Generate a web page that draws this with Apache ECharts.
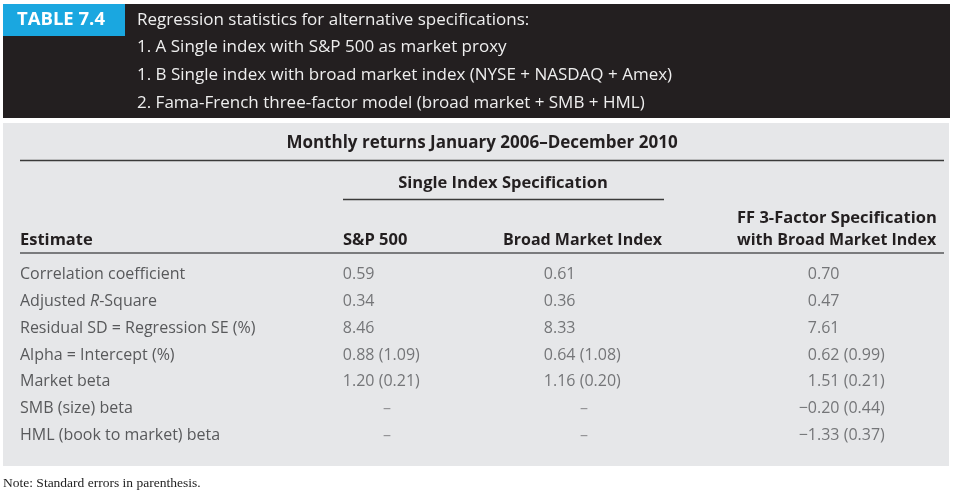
<!DOCTYPE html>
<html><head><meta charset="utf-8">
<script src="https://cdn.jsdelivr.net/npm/echarts@6/dist/echarts.min.js"></script>
<style>html,body{margin:0;padding:0;background:#fff}#c{width:953px;height:492px}</style>
</head><body><div id="c"></div>
<script>
// ---- data ----
const tableTag = 'TABLE 7.4';
const captionLines = [
  'Regression statistics for alternative specifications:',
  '1. A Single index with S&P 500 as market proxy',
  '1. B Single index with broad market index (NYSE + NASDAQ + Amex)',
  '2. Fama-French three-factor model (broad market + SMB + HML)'
];
const periodTitle = 'Monthly returns January 2006\u2013December 2010';
const groupTitle = 'Single Index Specification';
const columns = ['Estimate', 'S&P 500', 'Broad Market Index', 'FF 3-Factor Specification\nwith Broad Market Index'];
const rowLabels = [
  'Correlation coefficient',
  'Adjusted R-Square',
  'Residual SD = Regression SE (%)',
  'Alpha = Intercept (%)',
  'Market beta',
  'SMB (size) beta',
  'HML (book to market) beta'
];
const sp500Est = [0.59, 0.34, 8.46, 0.88, 1.20, null, null];
const sp500SE  = [null, null, null, 1.09, 0.21, null, null];
const broadEst = [0.61, 0.36, 8.33, 0.64, 1.16, null, null];
const broadSE  = [null, null, null, 1.08, 0.20, null, null];
const ffEst    = [0.70, 0.47, 7.61, 0.62, 1.51, -0.20, -1.33];
const ffSE     = [null, null, null, 0.99, 0.21, 0.44, 0.37];
const footnote = 'Note: Standard errors in parenthesis.';

// ---- styling ----
const FONT = '"Open Sans", sans-serif';
const BODY = '#58595b';
const DARK = '#231f20';
const BODY_SIZE = 16;
const chart = echarts.init(document.getElementById('c'), null, {renderer: 'canvas'});

function fmt(v) { const s = Math.abs(v).toFixed(2); return (v < 0 ? '\u2212' : '') + s; }
function intPart(v) { return fmt(v).split('.')[0]; }
function restPart(v, se) { return '.' + fmt(v).split('.')[1] + (se != null ? ' (' + se.toFixed(2) + ')' : ''); }

const valueCols = [
  {name: columns[1], est: sp500Est, se: sp500SE, dec: 352, dash: 35},
  {name: columns[2], est: broadEst, se: broadSE, dec: 553, dash: 31},
  {name: columns[3], est: ffEst, se: ffSE, dec: 817, dash: 0}
];

const rowTop = 261, rowH = 188;
const grids = [{left: 20, top: rowTop, width: 280, height: rowH}];
const xAxes = [{gridIndex: 0, type: 'category', data: [columns[0]], show: false}];
const yAxes = [{
  gridIndex: 0, type: 'category', data: rowLabels, inverse: true,
  axisLine: {show: false}, axisTick: {show: false}, splitLine: {show: false},
  axisLabel: {
    inside: true, margin: 0, color: BODY, fontFamily: FONT, fontSize: BODY_SIZE,
    formatter: function (v) { return v === 'Adjusted R-Square' ? 'Adjusted {i|R}-Square' : v; },
    rich: {i: {fontStyle: 'italic', color: BODY, fontFamily: FONT, fontSize: BODY_SIZE}}
  }
}];
const series = [{
  type: 'scatter', xAxisIndex: 0, yAxisIndex: 0, symbolSize: 0,
  data: rowLabels.map(r => [columns[0], r]), silent: true
}];
const lbl = {color: BODY, fontFamily: FONT, fontSize: BODY_SIZE};
valueCols.forEach((c, i) => {
  const gi = i + 1;
  grids.push({left: c.dec - 10, top: rowTop, width: 20, height: rowH});
  xAxes.push({gridIndex: gi, type: 'category', data: [c.name], show: false});
  yAxes.push({gridIndex: gi, type: 'category', data: rowLabels, inverse: true, show: false});
  const idx = rowLabels.map((r, k) => k);
  const vals = idx.filter(k => c.est[k] != null);
  const nulls = idx.filter(k => c.est[k] == null);
  series.push({
    type: 'scatter', xAxisIndex: gi, yAxisIndex: gi, symbolSize: 0, silent: true, z: 10,
    data: vals.map(k => ({value: [c.name, rowLabels[k]], k: k})),
    label: Object.assign({show: true, position: 'left', distance: 0,
      formatter: p => intPart(c.est[p.data.k])}, lbl)
  });
  series.push({
    type: 'scatter', xAxisIndex: gi, yAxisIndex: gi, symbolSize: 0, silent: true, z: 10,
    data: vals.map(k => ({value: [c.name, rowLabels[k]], k: k})),
    label: Object.assign({show: true, position: 'right', distance: 0,
      formatter: p => restPart(c.est[p.data.k], c.se[p.data.k])}, lbl)
  });
  if (nulls.length) series.push({
    type: 'scatter', xAxisIndex: gi, yAxisIndex: gi, symbolSize: 0, silent: true, z: 10,
    data: nulls.map(k => ({value: [c.name, rowLabels[k]], k: k})),
    label: Object.assign({show: true, position: 'inside', offset: [c.dash, 0],
      formatter: () => '\u2013'}, lbl, {color: '#808082', fontSize: 16})
  });
});

function txt(x, y, text, opt) {
  return {type: 'text', z: 50, style: Object.assign({x: x, y: y, text: text, textVerticalAlign: 'middle',
    textAlign: 'left', fill: DARK, font: 'bold 16.5px ' + FONT}, opt || {})};
}
function line(x1, x2, y, color, w) {
  return {type: 'line', z: 20, shape: {x1: x1, y1: y, x2: x2, y2: y}, style: {stroke: color, lineWidth: w}};
}
const CAP = '17px ' + FONT;
const graphics = [
  {type: 'rect', z: 0, shape: {x: 3, y: 4, width: 947, height: 114}, style: {fill: '#231f20'}},
  {type: 'rect', z: 1, shape: {x: 3, y: 4, width: 122, height: 32}, style: {fill: '#1aa7e0'}},
  {type: 'rect', z: 0, shape: {x: 3, y: 123, width: 946, height: 343}, style: {fill: '#e6e7e9'}},
  txt(17, 20, tableTag, {fill: '#ffffff', font: 'bold 18.5px ' + FONT}),
  txt(137, 20, captionLines[0], {fill: '#eeeeee', font: CAP}),
  txt(137, 47, captionLines[1], {fill: '#eeeeee', font: CAP}),
  txt(137, 75, captionLines[2], {fill: '#eeeeee', font: CAP}),
  txt(137, 103, captionLines[3], {fill: '#eeeeee', font: CAP}),
  txt(482, 143, periodTitle, {textAlign: 'center', font: 'bold 17px ' + FONT}),
  line(20, 944, 160.5, '#3a3a3a', 1.3),
  txt(503, 183, groupTitle, {textAlign: 'center'}),
  line(343, 664, 199.5, '#3a3a3a', 1.3),
  txt(20, 240, columns[0]),
  txt(343, 240, columns[1]),
  txt(503, 240, columns[2], {font: 'bold 16px ' + FONT}),
  txt(737, 218, columns[3].split('\n')[0]),
  txt(737, 240, columns[3].split('\n')[1], {font: 'bold 16px ' + FONT}),
  line(20, 944, 253, '#7a7b7d', 2),
  txt(3, 483, footnote, {fill: '#222', font: '13.5px "Liberation Serif", serif'})
];

chart.setOption({
  animation: false,
  grid: grids, xAxis: xAxes, yAxis: yAxes, series: series,
  graphic: graphics
});
</script></body></html>
